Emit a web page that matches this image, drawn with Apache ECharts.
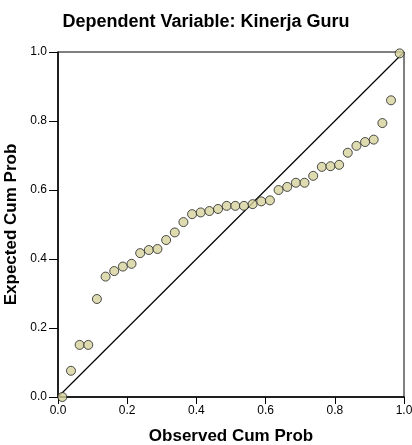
<!DOCTYPE html>
<html>
<head>
<meta charset="utf-8">
<script src="https://cdn.jsdelivr.net/npm/echarts@6/dist/echarts.min.js"></script>
<style>
html, body { margin: 0; padding: 0; background: #fff; }
#main { width: 412px; height: 445px; }
</style>
</head>
<body>
<div id="main"></div>
<script>
// 数据
var observed = [];
for (var i = 1; i <= 40; i++) observed.push((i - 0.5) / 40);
var expected = [0.0, 0.076, 0.151, 0.151, 0.284, 0.349, 0.365, 0.378, 0.386, 0.417,
	0.426, 0.429, 0.455, 0.477, 0.507, 0.530, 0.535, 0.539, 0.545, 0.554,
	0.554, 0.554, 0.559, 0.567, 0.570, 0.600, 0.609, 0.621, 0.621, 0.641,
	0.667, 0.669, 0.673, 0.708, 0.728, 0.739, 0.746, 0.794, 0.860, 0.996];
var refLine = [[0, 0], [1, 1]];
var ticks = [0, 0.2, 0.4, 0.6, 0.8, 1.0];

var points = observed.map(function(x, i) { return [x, expected[i]]; });

var chart = echarts.init(document.getElementById('main'));

var axisFont = {
	color: '#000',
	fontFamily: 'Liberation Sans',
	fontSize: 12
};

var option = {
	animation: false,
	title: {
		text: 'Dependent Variable: Kinerja Guru',
		left: 'center',
		top: 8,
		textStyle: {
			color: '#000',
			fontFamily: 'Liberation Sans',
			fontWeight: 'bold',
			fontSize: 18
		}
	},
	grid: {
		left: 58,
		right: 8,
		top: 52,
		bottom: 48,
		outerBoundsMode: 'none',
		show: true,
		borderColor: '#000',
		borderWidth: 1
	},
	xAxis: {
		type: 'value',
		min: 0,
		max: 1,
		interval: 0.2,
		name: 'Observed Cum Prob',
		nameLocation: 'middle',
		nameGap: 31,
		nameTextStyle: {
			color: '#000',
			fontFamily: 'Liberation Sans',
			fontWeight: 'bold',
			fontSize: 17
		},
		axisLine: { show: true, lineStyle: { color: '#000', width: 1.5 } },
		axisTick: { show: true, length: 7, lineStyle: { color: '#000' } },
		axisLabel: Object.assign({ margin: 8, formatter: function(v) { return v.toFixed(1); } }, axisFont),
		splitLine: { show: false }
	},
	yAxis: {
		type: 'value',
		min: 0,
		max: 1,
		interval: 0.2,
		name: 'Expected Cum Prob',
		nameLocation: 'middle',
		nameGap: 27,
		nameTextStyle: {
			color: '#000',
			fontFamily: 'Liberation Sans',
			fontWeight: 'bold',
			fontSize: 17
		},
		axisLine: { show: true, lineStyle: { color: '#000', width: 1.5 } },
		axisTick: { show: true, length: 9, lineStyle: { color: '#000' } },
		axisLabel: Object.assign({ margin: 11, formatter: function(v) { return v.toFixed(1); } }, axisFont),
		splitLine: { show: false }
	},
	series: [{
		type: 'line',
		data: refLine,
		symbol: 'none',
		lineStyle: { color: '#000', width: 1.2 },
		z: 1
	}, {
		type: 'scatter',
		data: points,
		symbol: 'circle',
		symbolSize: 9,
		clip: false,
		itemStyle: {
			color: '#d6d29e',
			borderColor: '#222',
			borderWidth: 1
		},
		z: 2
	}]
};

chart.setOption(option);
</script>
</body>
</html>
